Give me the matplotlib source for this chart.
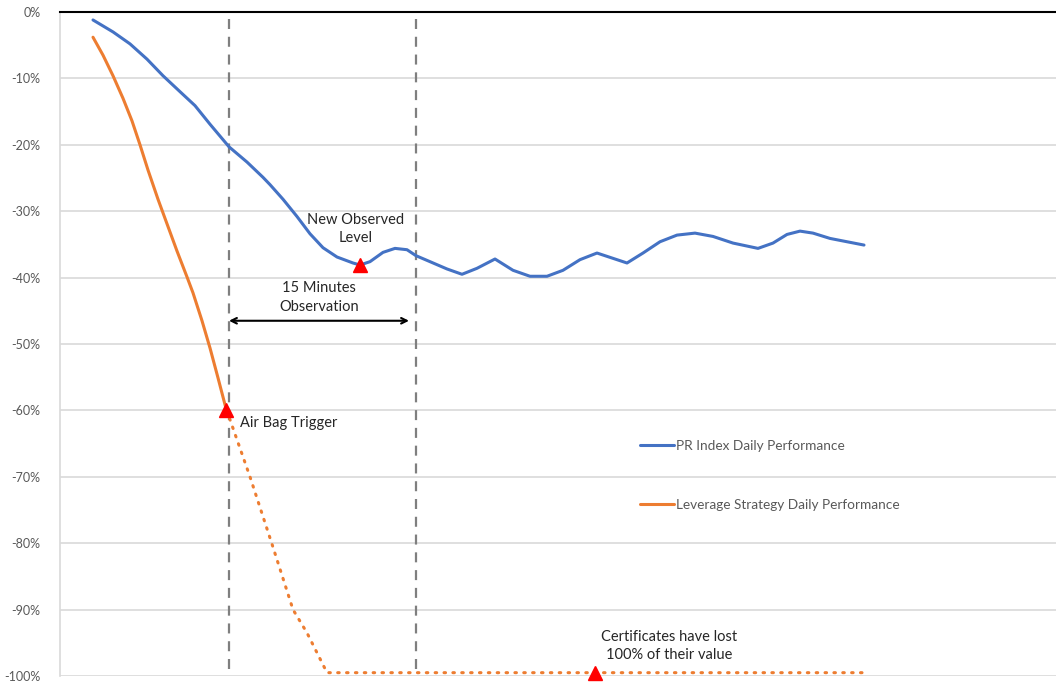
import numpy as np
import matplotlib.pyplot as plt
from matplotlib.ticker import FuncFormatter

plt.rcParams['font.family'] = ['Lato', 'DejaVu Sans']

# time axis in arbitrary units (left edge of plot = 0)
t_index = [33, 53, 70, 87, 103, 120, 135, 150, 169, 187, 203, 210, 223, 237, 250,
           263, 277, 293, 300, 310, 323, 335, 347, 356, 370, 387, 402, 417, 435,
           453, 470, 487, 503, 520, 537, 553, 567, 583, 600, 617, 635, 653, 673,
           698, 713, 727, 740, 753, 770, 787, 804]
pr_index = [-1.2, -3.0, -4.8, -7.1, -9.6, -12.0, -14.1, -16.9, -20.3, -22.6, -24.9,
            -26.0, -28.2, -30.8, -33.4, -35.5, -36.9, -37.8, -38.1, -37.6, -36.2,
            -35.6, -35.8, -36.7, -37.6, -38.7, -39.5, -38.6, -37.2, -38.9, -39.8,
            -39.8, -38.9, -37.3, -36.3, -37.1, -37.8, -36.3, -34.6, -33.6, -33.3,
            -33.8, -34.8, -35.6, -34.8, -33.5, -33.0, -33.3, -34.1, -34.6, -35.1]

t_lev = [33, 43, 53, 63, 72, 80, 88, 98, 107, 117, 127, 133, 142, 150, 158, 166.5]
leverage = [-3.8, -6.5, -9.6, -13.0, -16.4, -20.0, -23.8, -28.2, -31.9, -36.0,
            -39.9, -42.3, -46.5, -50.6, -55.1, -60.0]

t_after = [166.5, 170, 190, 213, 233, 247, 267, 805]
leverage_after = [-60.0, -61.4, -70.0, -80.6, -90.0, -93.5, -99.5, -99.5]

obs_start, obs_end = 169, 356
trigger = (166.5, -60.0)
new_level = (300, -38.1)
lost = (535, -99.5)

blue = '#4472C4'
orange = '#ED7D31'
grid = '#D9D9D9'
txt = '#262626'

fig = plt.figure(figsize=(10.56, 6.83), dpi=100)
ax = fig.add_axes([60 / 1056, 1 - 676 / 683, 996 / 1056, 664 / 683])

ax.set_xlim(0, 996)
ax.set_ylim(-100, 0)
ax.set_yticks(np.arange(-100, 1, 10))
ax.yaxis.set_major_formatter(FuncFormatter(lambda v, p: f'{v:.0f}%'))
ax.set_xticks([])
ax.tick_params(axis='y', length=0, pad=14, labelsize=9, labelcolor='#595959')
ax.grid(axis='y', color=grid, linewidth=1.2)
ax.set_axisbelow(True)
for s in ['right', 'bottom']:
    ax.spines[s].set_visible(False)
ax.spines['left'].set_color(grid)
ax.spines['left'].set_linewidth(1.2)
ax.spines['top'].set_color('black')
ax.spines['top'].set_linewidth(1.5)

# observation window
for xv in [obs_start, obs_end]:
    ax.plot([xv, xv], [-1, -100], color='#7F7F7F', linewidth=1.6,
            linestyle=(0, (4.5, 3.5)), zorder=2)

ax.plot(t_index, pr_index, color=blue, linewidth=2.2, solid_capstyle='round',
        solid_joinstyle='round', label='PR Index Daily Performance', zorder=3)
ax.plot(t_lev, leverage, color=orange, linewidth=2.2, solid_capstyle='round',
        solid_joinstyle='round', label='Leverage Strategy Daily Performance',
        zorder=3)
ax.plot(t_after, leverage_after, color=orange, linewidth=2.2,
        linestyle=(0, (0.5, 2.4)), dash_capstyle='round', zorder=3)

for px, py in [trigger, new_level, lost]:
    ax.plot(px, py, marker='^', color='red', markersize=10, linestyle='none',
            zorder=5, clip_on=False)

ax.annotate('', xy=(obs_start, -46.5), xytext=(obs_end - 7, -46.5),
            arrowprops=dict(arrowstyle='<->', color='black', lw=1.5,
                            shrinkA=0, shrinkB=0))

ax.text(259, -43.0, '15 Minutes\nObservation', ha='center', va='center',
        fontsize=10.5, color=txt, linespacing=1.45)
ax.text(296, -32.7, 'New Observed\nLevel', ha='center', va='center',
        fontsize=10.5, color=txt, linespacing=1.3)
ax.text(180, -61.9, 'Air Bag Trigger', ha='left', va='center',
        fontsize=10.5, color=txt)
ax.text(609, -95.5, 'Certificates have lost\n100% of their value', ha='center',
        va='center', fontsize=10.5, color=txt, linespacing=1.4)

leg = ax.legend(loc='upper left', bbox_to_anchor=(0.582, 0.356), frameon=False,
                fontsize=9.8, handlelength=2.5, handletextpad=0.2,
                labelspacing=3.5, borderpad=0, borderaxespad=0)
for t in leg.get_texts():
    t.set_color('#595959')

fig.savefig('out.png', dpi=100)
